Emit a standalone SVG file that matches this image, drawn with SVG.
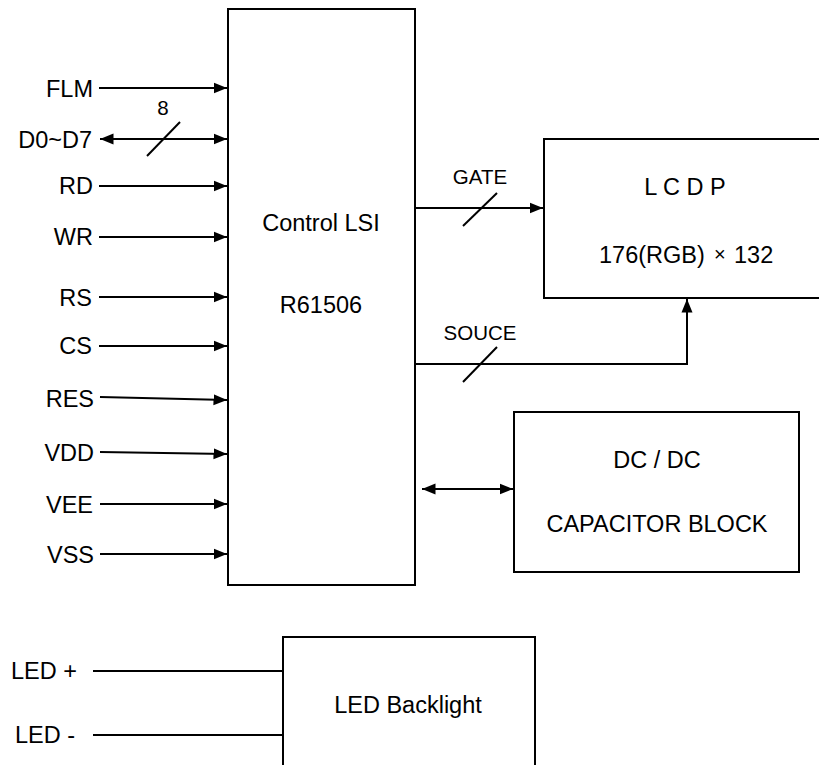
<svg xmlns="http://www.w3.org/2000/svg" width="819" height="765" viewBox="0 0 819 765">
<defs>
<marker id="ah" markerUnits="userSpaceOnUse" markerWidth="14" markerHeight="12" refX="13.5" refY="6" orient="auto-start-reverse" viewBox="0 0 14 12">
<path d="M0,0.5 L13.5,6 L0,11.5 Z" fill="#000"/>
</marker>
<style>
.box{fill:#fff;stroke:#000;stroke-width:2}
.ln{fill:none;stroke:#000;stroke-width:2}
.ar{fill:none;stroke:#000;stroke-width:2;marker-end:url(#ah)}
.da{fill:none;stroke:#000;stroke-width:2;marker-start:url(#ah);marker-end:url(#ah)}
text{font-family:"Liberation Sans",Arial,sans-serif;font-size:23.5px;fill:#000}
.lbl{text-anchor:end}
.c{text-anchor:middle}
.s{font-size:20.5px}
</style>
</defs>
<rect width="819" height="765" fill="#fff"/>
<g id="control-lsi">
<rect class="box" x="228" y="9" width="187" height="576"/>
<text class="c" x="321" y="231">Control LSI</text>
<text class="c" x="321" y="313">R61506</text>
</g>
<g id="lcdp">
<rect class="box" x="544" y="139" width="290" height="159"/>
<text class="c" x="685" y="195">L C D P</text>
<text x="599" y="263">176(RGB)<tspan x="714" y="261" font-size="20">×</tspan><tspan x="734" y="263">132</tspan></text>
</g>
<g id="dcdc">
<rect class="box" x="514" y="412" width="285" height="160"/>
<text class="c" x="657" y="468">DC / DC</text>
<text class="c" x="657" y="532">CAPACITOR BLOCK</text>
</g>
<g id="led-backlight">
<rect class="box" x="283" y="637" width="252" height="140"/>
<text class="c" x="408" y="713">LED Backlight</text>
</g>
<g id="signals">
<text class="lbl" x="93" y="97">FLM</text>
<text class="lbl" x="92" y="148">D0~D7</text>
<text class="lbl" x="93" y="194">RD</text>
<text class="lbl" x="93" y="245">WR</text>
<text class="lbl" x="92" y="306">RS</text>
<text class="lbl" x="92" y="354">CS</text>
<text class="lbl" x="94" y="407">RES</text>
<text class="lbl" x="94" y="461">VDD</text>
<text class="lbl" x="93" y="513">VEE</text>
<text class="lbl" x="94" y="563">VSS</text>
<text x="11" y="679">LED +</text>
<text x="15" y="743">LED -</text>
<text class="c s" x="163" y="115">8</text>
<text class="c s" x="480" y="184">GATE</text>
<text class="c s" x="480" y="340">SOUCE</text>
</g>
<g id="connectors">
<path class="ar" d="M99,88 H227"/>
<path class="da" d="M100,139 H227"/>
<path class="ln" d="M147,156 L180,122"/>
<path class="ar" d="M99,186 H227"/>
<path class="ar" d="M99,237 H227"/>
<path class="ar" d="M99,297 H227"/>
<path class="ar" d="M99,346 H227"/>
<path class="ar" d="M100,397 L227,400"/>
<path class="ar" d="M100,452 L227,454"/>
<path class="ar" d="M100,504 H227"/>
<path class="ar" d="M100,554 H227"/>
<path class="ar" d="M415,208 H543"/>
<path class="ln" d="M463,226 L497,193"/>
<path class="ar" d="M415,364 H687 V299"/>
<path class="ln" d="M463,382 L497,347"/>
<path class="da" d="M422,489 H513"/>
<path class="ln" d="M93,671 H283"/>
<path class="ln" d="M93,735 H283"/>
</g>
</svg>
